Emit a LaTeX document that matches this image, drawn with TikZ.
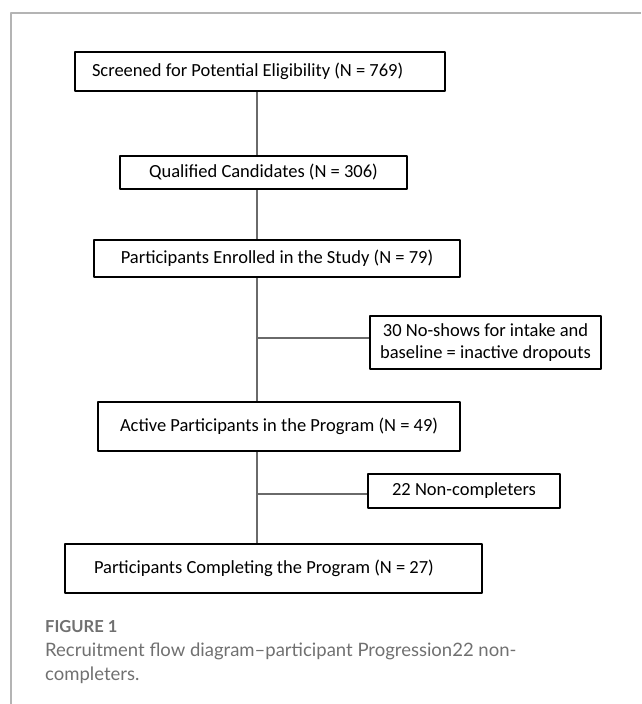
\documentclass[tikz,border=0pt]{standalone}
\usepackage{fontspec}
\setmainfont{Carlito}
\newfontfamily\captionfont{Lato}
\definecolor{framegray}{HTML}{B4B4B4}
\definecolor{linkgray}{HTML}{6A6A6A}
\definecolor{captiongray}{HTML}{707070}

\begin{document}
\begin{tikzpicture}[
  x=1pt,
  y=-1pt,
  line join=round,
  stage/.style={draw=black,line width=2.1pt,fill=white,inner sep=0pt,
    font=\fontsize{18.5}{22}\selectfont},
  link/.style={draw=linkgray,line width=1.1pt},
  frame/.style={draw=framegray,line width=1.4pt}
]
  \useasboundingbox (0,0) rectangle (641,704);

  % Page frame.
  \draw[frame] (11,704) -- (11,13) -- (641,13);

  % Main stages.
  \node[stage,minimum width=370,minimum height=39,text width=336,align=flush left] (screened) at (260,71.5)
    {Screened for Potential Eligibility (N = 769)};
  \node[stage,minimum width=287,minimum height=33] (qualified) at (263.5,172.5)
    {Qualified Candidates (N = 306)};
  \node[stage,minimum width=366,minimum height=37] (enrolled) at (277,258.5)
    {Participants Enrolled in the Study (N = 79)};
  \node[stage,minimum width=362,minimum height=49] (active) at (279,426.5)
    {Active Participants in the Program (N = 49)};
  \node[stage,minimum width=417,minimum height=49,text width=359,align=flush left] (completing) at (273.5,568.5)
    {Participants Completing the Program (N = 27)};

  % Dropouts.
  \node[stage,align=center,minimum width=231,minimum height=53] (noshows) at (485.5,342.5)
    {30 No-shows for intake and\\baseline = inactive dropouts};
  \node[stage,minimum width=192,minimum height=34] (noncomp) at (464,491)
    {22 Non-completers};

  % Trunk junctions.
  \coordinate (j1) at (257,338);
  \coordinate (j2) at (257,494);

  \draw[link] (screened.south -| j1) -- (qualified.north -| j1);
  \draw[link] (qualified.south -| j1) -- (enrolled.north -| j1);
  \draw[link] (enrolled.south -| j1) -- (active.north -| j1);
  \draw[link] (active.south -| j1) -- (completing.north -| j1);
  \draw[link] (j1) -- (j1 -| noshows.west);
  \draw[link] (j2) -- (j2 -| noncomp.west);

  % Caption.
  \node[anchor=base west,inner sep=0pt,text=captiongray,
    font=\fontsize{16.5}{19}\selectfont\captionfont\bfseries] (figlabel) at (45,632)
    {FIGURE 1};
  \node[anchor=north west,inner sep=0pt,text=captiongray,align=left,
    font=\captionfont\fontsize{18.5}{24.5}\selectfont] (figcaption) at (45,642.5)
    {Recruitment flow diagram–participant Progression22 non-\\completers.};
\end{tikzpicture}
\end{document}
